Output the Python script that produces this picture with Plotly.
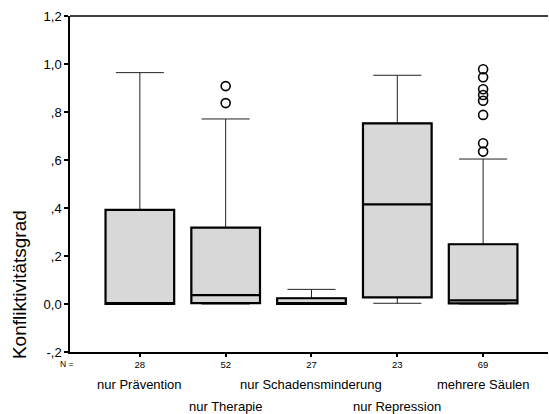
import plotly.graph_objects as go

# Conflict degree by type of local drug policy (SPSS-style boxplot)
categories = ["nur Prävention", "nur Therapie", "nur Schadensminderung",
              "nur Repression", "mehrere Säulen"]
n_counts = ["28", "52", "27", "23", "69"]

q1 = [0.0, 0.004, 0.0, 0.028, 0.003]
median = [0.0, 0.037, 0.0, 0.415, 0.015]
q3 = [0.392, 0.318, 0.024, 0.753, 0.249]
lower_fence = [0.0, 0.0, 0.0, 0.003, 0.0]
upper_fence = [0.964, 0.771, 0.061, 0.953, 0.604]

outlier_cat = ["nur Therapie", "nur Therapie",
               "mehrere Säulen", "mehrere Säulen", "mehrere Säulen", "mehrere Säulen",
               "mehrere Säulen", "mehrere Säulen", "mehrere Säulen", "mehrere Säulen"]
outlier_val = [0.908, 0.837,
               0.978, 0.945, 0.895, 0.871, 0.847, 0.788, 0.670, 0.635]

y_ticks = [-0.2, 0.0, 0.2, 0.4, 0.6, 0.8, 1.0, 1.2]
y_ticktext = ["-,2", "0,0", ",2", ",4", ",6", ",8", "1,0", "1,2"]

FILL = "#d8d8d8"
FONT = "Liberation Sans, Arial, sans-serif"

fig = go.Figure()

# whiskers (thin)
fig.add_trace(go.Box(
    x=categories, q1=q1, median=median, q3=q3,
    lowerfence=lower_fence, upperfence=upper_fence,
    width=0.8, whiskerwidth=0.7,
    fillcolor=FILL, line=dict(color="#222222", width=1),
    boxpoints=False, hoverinfo="skip", showlegend=False,
))
# boxes and medians (heavy outline)
fig.add_trace(go.Box(
    x=categories, q1=q1, median=median, q3=q3,
    lowerfence=q1, upperfence=q3,
    width=0.8, whiskerwidth=0,
    fillcolor=FILL, line=dict(color="black", width=2.2),
    boxpoints=False, hoverinfo="skip", showlegend=False,
))
# outliers
fig.add_trace(go.Scatter(
    x=outlier_cat, y=outlier_val, mode="markers",
    marker=dict(symbol="circle-open", size=9, color="black",
                line=dict(width=1.6, color="black")),
    showlegend=False, hoverinfo="skip",
))

annotations = [
    dict(text="Konfliktivitätsgrad", xref="paper", yref="paper",
         x=-0.104, y=0.2, xanchor="center", yanchor="middle",
         textangle=-90, showarrow=False,
         font=dict(family=FONT, size=19, color="black")),
    dict(text="N =", xref="paper", yref="paper", x=-0.006, y=-0.036,
         xanchor="center", yanchor="middle", showarrow=False,
         font=dict(family=FONT, size=8.5, color="black")),
]
for i, name in enumerate(categories):
    row2 = i % 2 == 1
    annotations.append(dict(
        text=name, x=name, xref="x", yref="paper",
        y=-0.097 if not row2 else -0.163, yanchor="middle",
        xanchor="center", showarrow=False,
        font=dict(family=FONT, size=13, color="black")))

fig.update_layout(
    width=549, height=414,
    margin=dict(l=70, r=1, t=16, b=62),
    paper_bgcolor="white", plot_bgcolor="white",
    boxmode="overlay",
    font=dict(family=FONT, color="black"),
    annotations=annotations,
    # top frame line of the plot area
    shapes=[dict(type="line", xref="paper", yref="paper",
                 x0=0, x1=1, y0=1, y1=1,
                 line=dict(color="black", width=1.5))],
    xaxis=dict(
        type="category", categoryorder="array", categoryarray=categories,
        range=[-0.814, 4.756],
        tickvals=categories, ticktext=n_counts,
        tickfont=dict(size=9.5, family=FONT, color="black"),
        ticks="outside", ticklen=3, tickwidth=2, tickcolor="black",
        showline=True, linecolor="black", linewidth=1.5,
        showgrid=False, zeroline=False,
    ),
    yaxis=dict(
        range=[-0.2, 1.2],
        tickvals=y_ticks, ticktext=y_ticktext,
        tickfont=dict(size=13, family=FONT, color="black"),
        ticks="outside", ticklen=4, tickwidth=2, tickcolor="black",
        showline=True, linecolor="black", linewidth=1.5,
        showgrid=False, zeroline=False,
    ),
)

fig.write_html("out.html")
